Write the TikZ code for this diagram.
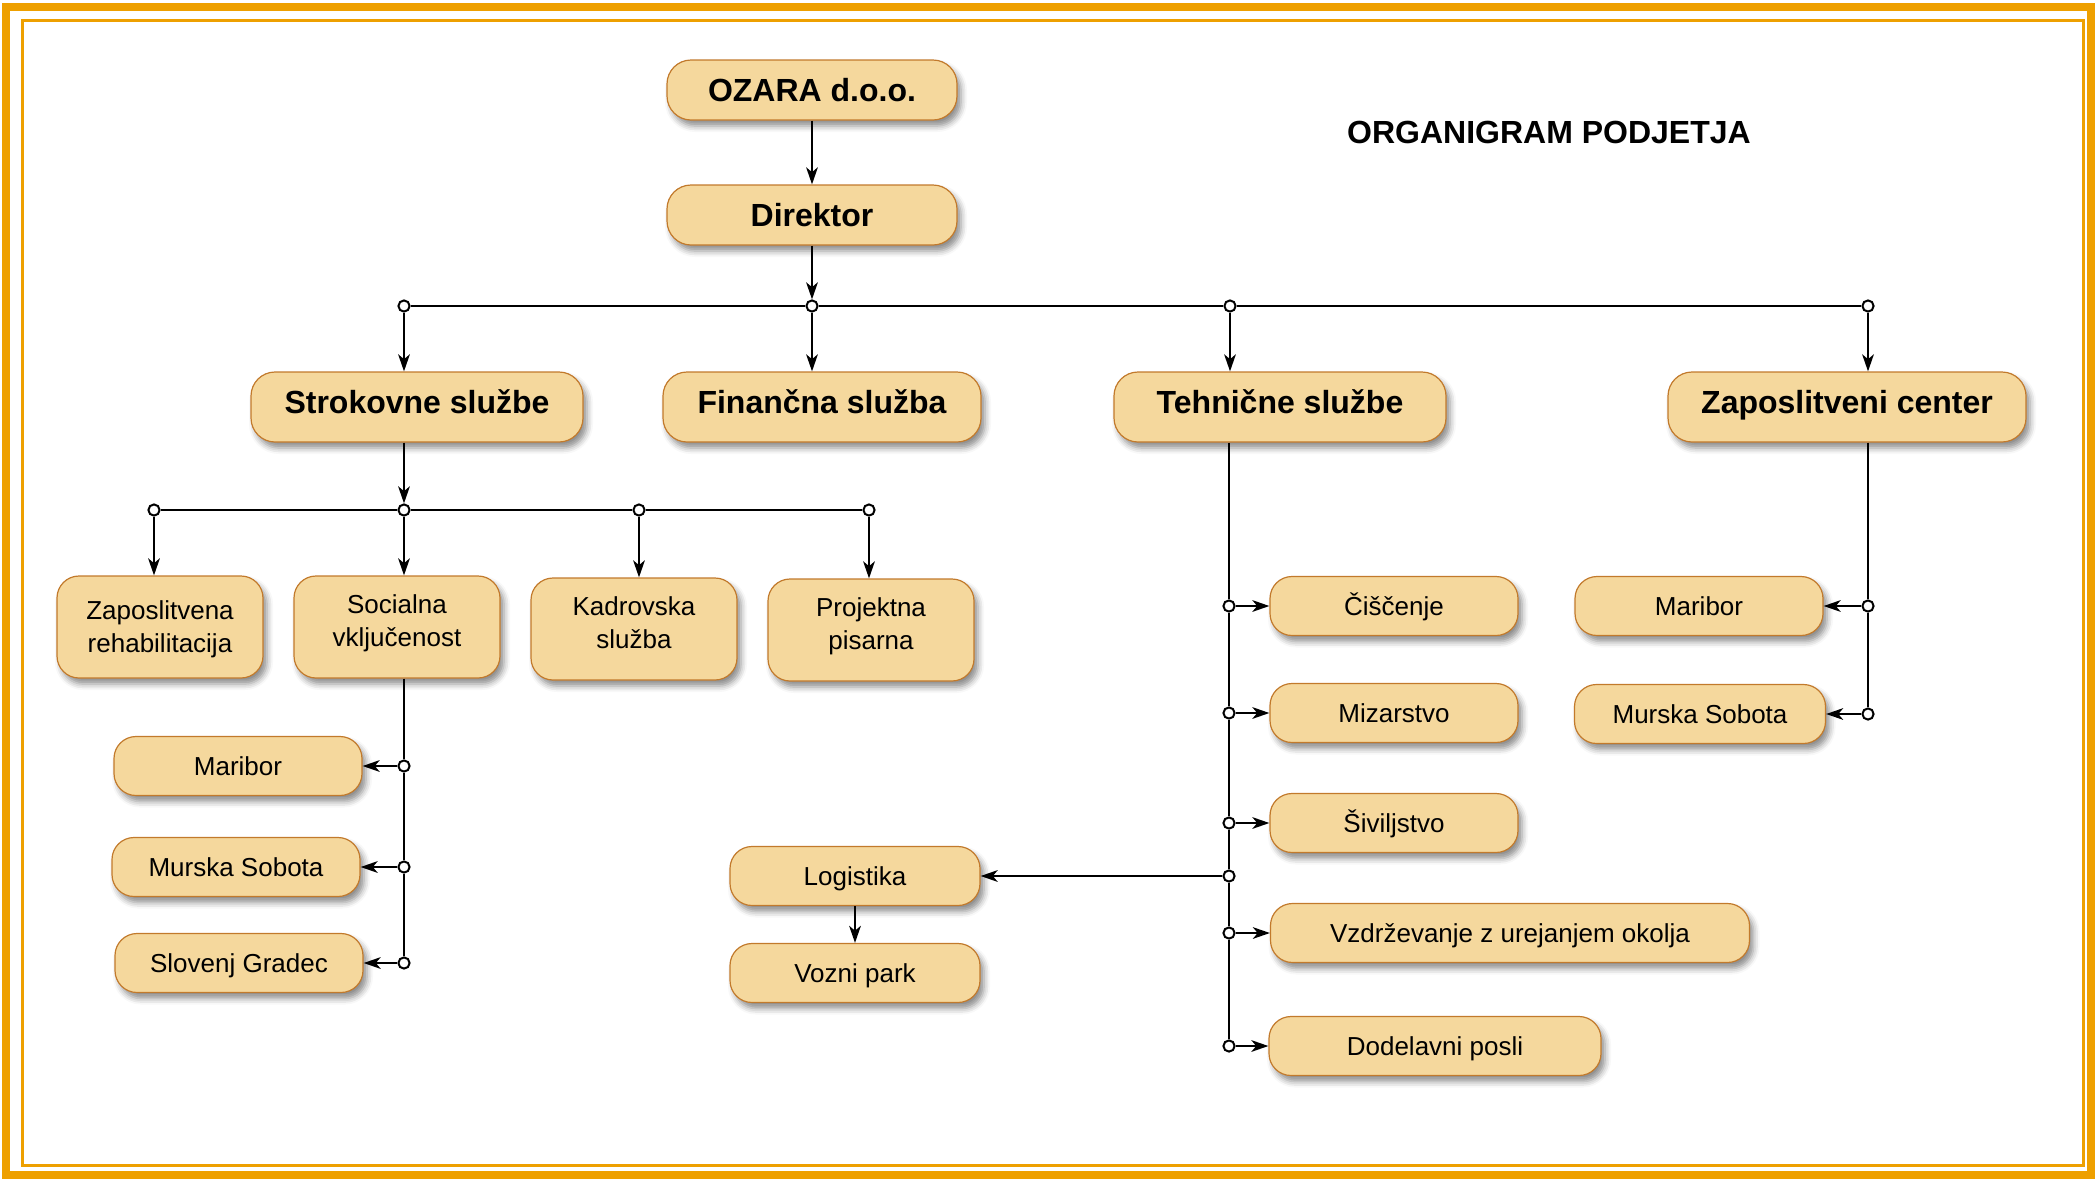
\documentclass[tikz,border=0pt]{standalone}
\usepackage{fontspec}
\setmainfont{Liberation Sans}
\usetikzlibrary{arrows.meta,shadows.blur}
\definecolor{boxfill}{HTML}{F5D89D}
\definecolor{boxline}{HTML}{C27A2C}
\definecolor{frameor}{HTML}{EEA000}
\tikzset{
  base/.style={draw=boxline, line width=0.6pt, fill=boxfill, align=center, inner sep=2pt,
    blur shadow={shadow xshift=2pt, shadow yshift=-3pt, shadow blur radius=3pt, shadow opacity=45}},
  topbox/.style={base, rounded corners=12pt, font=\fontsize{16}{19}\selectfont\bfseries,
    minimum width=145pt, minimum height=30pt},
  secbox/.style={base, rounded corners=12pt, font=\fontsize{16}{19}\selectfont\bfseries,
    minimum height=35pt, text height=10pt, text depth=3.5pt},
  midbox/.style={base, rounded corners=11pt, minimum width=103pt, minimum height=51pt,
    font=\fontsize{13}{16.5}\selectfont, text height=26pt, text depth=7pt},
  leafbox/.style={base, rounded corners=11pt, minimum width=124pt, minimum height=29.5pt,
    font=\fontsize{13}{16}\selectfont, text height=9.4pt, text depth=0.1pt},
  jn/.style={circle, draw=black, fill=white, line width=1pt, inner sep=0pt, minimum size=5.6pt},
  conn/.style={line width=1.3pt, draw=black},
  arr/.style={conn, -{Stealth[length=8.5pt,width=5.8pt,inset=2.4pt]}},
}
\begin{document}
\begin{tikzpicture}[x=0.5pt,y=-0.5pt]
\useasboundingbox (0,0) rectangle (2097,1179);
% frame
\draw[frameor, line width=4pt] (6,7) rectangle (2091,1175);
\draw[frameor, line width=1.5pt] (22.5,20) rectangle (2083,1165);

% title
\node[font=\fontsize{16}{19}\selectfont\bfseries] (title) at (1549,132) {ORGANIGRAM PODJETJA};

% top nodes
\node[topbox] (oz) at (812,90) {OZARA d.o.o.};
\node[topbox] (dir) at (812,215) {Direktor};

% level 2
\node[secbox, minimum width=166pt] (sk) at (417,407) {Strokovne službe};
\node[secbox, minimum width=159pt] (fin) at (822,407) {Finančna služba};
\node[secbox, minimum width=166pt] (teh) at (1280,407) {Tehnične službe};
\node[secbox, minimum width=179pt] (zc) at (1847,407) {Zaposlitveni center};

% junctions level 1
\node[jn] (j1) at (404,306) {};
\node[jn] (j2) at (812,306) {};
\node[jn] (j3) at (1230,306) {};
\node[jn] (j4) at (1868,306) {};

% level 3
\node[midbox, text height=26pt, text depth=1pt] (zr) at (160,627) {Zaposlitvena\\rehabilitacija};
\node[midbox] (sv) at (397,627) {Socialna\\vključenost};
\node[midbox] (ks) at (634,629) {Kadrovska\\služba};
\node[midbox] (pp) at (871,630) {Projektna\\pisarna};

\node[jn] (s1) at (154,510) {};
\node[jn] (s2) at (404,510) {};
\node[jn] (s3) at (639,510) {};
\node[jn] (s4) at (869,510) {};

% socialna leaves
\node[leafbox] (mb) at (238,766) {Maribor};
\node[leafbox] (ms) at (236,867) {Murska Sobota};
\node[leafbox] (sg) at (239,963) {Slovenj Gradec};
\node[jn] (m1) at (404,766) {};
\node[jn] (m2) at (404,867) {};
\node[jn] (m3) at (404,963) {};

% tehnicne leaves
\node[leafbox] (ci) at (1394,606) {Čiščenje};
\node[leafbox] (mi) at (1394,713) {Mizarstvo};
\node[leafbox] (si) at (1394,823) {Šiviljstvo};
\node[leafbox, minimum width=239.5pt] (vz) at (1510,933) {Vzdrževanje z urejanjem okolja};
\node[leafbox, minimum width=166pt] (dp) at (1435,1046) {Dodelavni posli};
\node[leafbox, minimum width=125pt] (lo) at (855,876) {Logistika};
\node[leafbox, minimum width=125pt] (vp) at (855,973) {Vozni park};
\node[jn] (t1) at (1229,606) {};
\node[jn] (t2) at (1229,713) {};
\node[jn] (t3) at (1229,823) {};
\node[jn] (t4) at (1229,876) {};
\node[jn] (t5) at (1229,933) {};
\node[jn] (t6) at (1229,1046) {};

% zaposlitveni center leaves
\node[leafbox] (zm) at (1699,606) {Maribor};
\node[leafbox, minimum width=125.5pt] (zs) at (1700,714) {Murska Sobota};
\node[jn] (z1) at (1868,606) {};
\node[jn] (z2) at (1868,714) {};

% connectors top
\draw[arr] (oz) -- (dir);
\draw[arr] (dir) -- (j2);
\draw[conn] (j1) -- (j2) -- (j3) -- (j4);
\draw[arr] (j1) -- (j1 |- sk.north);
\draw[arr] (j2) -- (j2 |- fin.north);
\draw[arr] (j3) -- (j3 |- teh.north);
\draw[arr] (j4) -- (j4 |- zc.north);

% strokovne
\draw[arr] (s2 |- sk.south) -- (s2);
\draw[conn] (s1) -- (s2) -- (s3) -- (s4);
\draw[arr] (s1) -- (s1 |- zr.north);
\draw[arr] (s2) -- (s2 |- sv.north);
\draw[arr] (s3) -- (s3 |- ks.north);
\draw[arr] (s4) -- (s4 |- pp.north);

% socialna
\draw[conn] (m1 |- sv.south) -- (m1) -- (m2) -- (m3);
\draw[arr] (m1) -- (mb.east);
\draw[arr] (m2) -- (ms.east);
\draw[arr] (m3) -- (sg.east);

% tehnicne
\draw[conn] (t1 |- teh.south) -- (t1) -- (t2) -- (t3) -- (t4) -- (t5) -- (t6);
\draw[arr] (t1) -- (ci.west);
\draw[arr] (t2) -- (mi.west);
\draw[arr] (t3) -- (si.west);
\draw[arr] (t5) -- (vz.west);
\draw[arr] (t6) -- (dp.west);
\draw[arr] (t4) -- (lo.east);
\draw[arr] (lo) -- (vp);

% zaposlitveni
\draw[conn] (z1 |- zc.south) -- (z1) -- (z2);
\draw[arr] (z1) -- (zm.east);
\draw[arr] (z2) -- (zs.east);
\end{tikzpicture}
\end{document}
